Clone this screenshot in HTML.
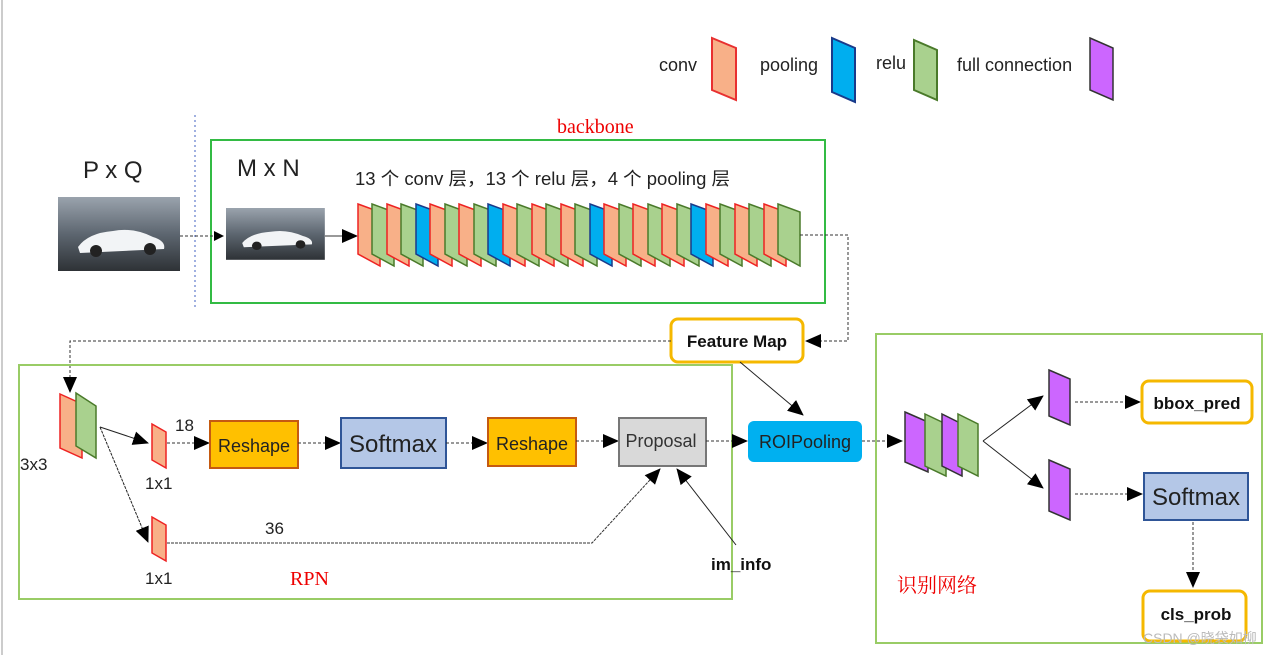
<!DOCTYPE html>
<html><head><meta charset="utf-8"><style>
body{margin:0;background:#fff;}
svg{display:block;font-family:"Liberation Sans","Noto Sans CJK SC",sans-serif;}
</style></head><body>
<svg width="1266" height="655" viewBox="0 0 1266 655" xmlns="http://www.w3.org/2000/svg">
<defs>
<marker id="a" markerWidth="10" markerHeight="10" refX="9" refY="5" orient="auto" markerUnits="userSpaceOnUse"><path d="M0,0 L10,5 L0,10 z" fill="#000"/></marker>
<marker id="b" markerWidth="16" markerHeight="14" refX="15" refY="7" orient="auto" markerUnits="userSpaceOnUse"><path d="M0,0 L16,7 L0,14 z" fill="#000"/></marker>
<linearGradient id="sky" x1="0" y1="0" x2="0" y2="1"><stop offset="0" stop-color="#9aa3ad"/><stop offset="0.5" stop-color="#5d6670"/><stop offset="1" stop-color="#2e3236"/></linearGradient>
<g id="car"><rect width="122" height="74" fill="url(#sky)"/><path d="M20,50 Q30,36 55,34 Q75,30 95,40 Q108,44 106,52 L22,56 z" fill="#f2f4f6"/><circle cx="38" cy="54" r="6" fill="#222"/><circle cx="92" cy="52" r="6" fill="#222"/></g>
<polygon id="par" points="0,0 22,8 22,62 0,50"/>
</defs>
<line x1="2" y1="0" x2="2" y2="655" stroke="#ccc" stroke-width="2"/>
<text x="659" y="71" font-size="18" fill="#222">conv</text>
<polygon points="712,38 736,48 736,100 712,90" fill="#f8b088" stroke="#e83030" stroke-width="2"/>
<text x="760" y="71" font-size="18" fill="#222">pooling</text>
<polygon points="832,38 855,48 855,102 832,92" fill="#00aeef" stroke="#1a3a8a" stroke-width="2"/>
<text x="876" y="69" font-size="18" fill="#222">relu</text>
<polygon points="914,40 937,50 937,100 914,90" fill="#a9d18e" stroke="#4a7a2a" stroke-width="2"/>
<text x="957" y="71" font-size="18" fill="#222">full connection</text>
<polygon points="1090,38 1113,48 1113,100 1090,90" fill="#cc66ff" stroke="#333" stroke-width="1.5"/>
<text x="557" y="133" font-size="20" fill="#e00" font-family="Liberation Serif,serif">backbone</text>
<rect x="211" y="140" width="614" height="163" fill="none" stroke="#33bb44" stroke-width="2"/>
<line x1="195" y1="115" x2="195" y2="310" stroke="#4060c0" stroke-dasharray="2,3"/>
<text x="83" y="178" font-size="24" fill="#222">P x Q</text>
<text x="237" y="176" font-size="24" fill="#222">M x N</text>
<use href="#car" x="58" y="197"/>
<use href="#car" transform="translate(226,208) scale(0.81,0.7)"/>
<line x1="180" y1="236" x2="223" y2="236" stroke="#333" stroke-dasharray="3,2" marker-end="url(#a)"/>
<text x="355" y="185" font-size="18" fill="#222" textLength="375" lengthAdjust="spacingAndGlyphs">13 个 conv 层，13 个 relu 层，4 个 pooling 层</text>
<line x1="325" y1="236" x2="357" y2="236" stroke="#333" marker-end="url(#b)"/>
<g stroke-width="1.5">
<use href="#par" x="358" y="204" fill="#f8b088" stroke="#ee2222"/>
<use href="#par" x="372" y="204" fill="#a9d18e" stroke="#4a7a2a"/>
<use href="#par" x="387" y="204" fill="#f8b088" stroke="#ee2222"/>
<use href="#par" x="401" y="204" fill="#a9d18e" stroke="#4a7a2a"/>
<use href="#par" x="416" y="204" fill="#00aeef" stroke="#1a3a8a"/>
<use href="#par" x="430" y="204" fill="#f8b088" stroke="#ee2222"/>
<use href="#par" x="445" y="204" fill="#a9d18e" stroke="#4a7a2a"/>
<use href="#par" x="459" y="204" fill="#f8b088" stroke="#ee2222"/>
<use href="#par" x="474" y="204" fill="#a9d18e" stroke="#4a7a2a"/>
<use href="#par" x="488" y="204" fill="#00aeef" stroke="#1a3a8a"/>
<use href="#par" x="503" y="204" fill="#f8b088" stroke="#ee2222"/>
<use href="#par" x="517" y="204" fill="#a9d18e" stroke="#4a7a2a"/>
<use href="#par" x="532" y="204" fill="#f8b088" stroke="#ee2222"/>
<use href="#par" x="546" y="204" fill="#a9d18e" stroke="#4a7a2a"/>
<use href="#par" x="561" y="204" fill="#f8b088" stroke="#ee2222"/>
<use href="#par" x="575" y="204" fill="#a9d18e" stroke="#4a7a2a"/>
<use href="#par" x="590" y="204" fill="#00aeef" stroke="#1a3a8a"/>
<use href="#par" x="604" y="204" fill="#f8b088" stroke="#ee2222"/>
<use href="#par" x="619" y="204" fill="#a9d18e" stroke="#4a7a2a"/>
<use href="#par" x="633" y="204" fill="#f8b088" stroke="#ee2222"/>
<use href="#par" x="648" y="204" fill="#a9d18e" stroke="#4a7a2a"/>
<use href="#par" x="662" y="204" fill="#f8b088" stroke="#ee2222"/>
<use href="#par" x="677" y="204" fill="#a9d18e" stroke="#4a7a2a"/>
<use href="#par" x="691" y="204" fill="#00aeef" stroke="#1a3a8a"/>
<use href="#par" x="706" y="204" fill="#f8b088" stroke="#ee2222"/>
<use href="#par" x="720" y="204" fill="#a9d18e" stroke="#4a7a2a"/>
<use href="#par" x="735" y="204" fill="#f8b088" stroke="#ee2222"/>
<use href="#par" x="749" y="204" fill="#a9d18e" stroke="#4a7a2a"/>
<use href="#par" x="764" y="204" fill="#f8b088" stroke="#ee2222"/>
<use href="#par" x="778" y="204" fill="#a9d18e" stroke="#4a7a2a"/>
</g>
<polyline points="800,235 848,235 848,341 806,341" fill="none" stroke="#333" stroke-dasharray="3,2" marker-end="url(#b)"/>
<rect x="671" y="319" width="132" height="43" rx="7" fill="#fff" stroke="#f5b800" stroke-width="3"/>
<text x="737" y="347" font-size="17" font-weight="bold" text-anchor="middle" fill="#111">Feature Map</text>
<polyline points="671,341 70,341 70,392" fill="none" stroke="#333" stroke-dasharray="3,2" marker-end="url(#b)"/>
<rect x="19" y="365" width="713" height="234" fill="none" stroke="#99cc66" stroke-width="2"/>
<polygon points="60,394 82,404 82,458 60,448" fill="#f8b088" stroke="#ee2222" stroke-width="1.5"/>
<polygon points="76,393 96,406 96,458 76,446" fill="#a9d18e" stroke="#4a7a2a" stroke-width="1.5"/>
<text x="20" y="470" font-size="17" fill="#222">3x3</text>
<line x1="100" y1="427" x2="148" y2="443" stroke="#222" marker-end="url(#b)"/>
<line x1="100" y1="427" x2="148" y2="542" stroke="#222" stroke-dasharray="3,1" marker-end="url(#b)"/>
<polygon points="152,424 166,432 166,468 152,460" fill="#f8b088" stroke="#ee2222" stroke-width="1.5"/>
<polygon points="152,517 166,525 166,561 152,553" fill="#f8b088" stroke="#ee2222" stroke-width="1.5"/>
<text x="175" y="431" font-size="17" fill="#222">18</text>
<text x="145" y="489" font-size="17" fill="#222">1x1</text>
<text x="145" y="584" font-size="17" fill="#222">1x1</text>
<text x="265" y="534" font-size="17" fill="#222">36</text>
<line x1="167" y1="443" x2="209" y2="443" stroke="#333" stroke-dasharray="3,2" marker-end="url(#b)"/>
<rect x="210" y="421" width="88" height="47" fill="#ffc000" stroke="#c55a11" stroke-width="2"/>
<text x="254" y="452" font-size="18" text-anchor="middle" fill="#222">Reshape</text>
<line x1="298" y1="443" x2="340" y2="443" stroke="#333" stroke-dasharray="3,2" marker-end="url(#b)"/>
<rect x="341" y="418" width="105" height="50" fill="#b4c7e7" stroke="#2f5597" stroke-width="2"/>
<text x="393" y="452" font-size="24" text-anchor="middle" fill="#222">Softmax</text>
<line x1="446" y1="443" x2="487" y2="443" stroke="#333" stroke-dasharray="3,2" marker-end="url(#b)"/>
<rect x="488" y="418" width="88" height="48" fill="#ffc000" stroke="#c55a11" stroke-width="2"/>
<text x="532" y="450" font-size="18" text-anchor="middle" fill="#222">Reshape</text>
<line x1="576" y1="441" x2="618" y2="441" stroke="#333" stroke-dasharray="3,2" marker-end="url(#b)"/>
<rect x="619" y="418" width="87" height="48" fill="#d9d9d9" stroke="#777" stroke-width="2"/>
<text x="661" y="447" font-size="18" text-anchor="middle" fill="#333">Proposal</text>
<polyline points="167,543 592,543 660,469" fill="none" stroke="#333" stroke-dasharray="3,1" marker-end="url(#b)"/>
<line x1="736" y1="545" x2="677" y2="469" stroke="#222" marker-end="url(#b)"/>
<text x="711" y="570" font-size="17" font-weight="bold" fill="#111">im_info</text>
<text x="290" y="585" font-size="20" fill="#e00" font-family="Liberation Serif,serif">RPN</text>
<line x1="706" y1="441" x2="747" y2="441" stroke="#333" stroke-dasharray="3,2" marker-end="url(#b)"/>
<rect x="748" y="421" width="114" height="41" rx="6" fill="#00b0f0"/>
<text x="805" y="448" font-size="18" text-anchor="middle" fill="#222">ROIPooling</text>
<line x1="740" y1="362" x2="803" y2="415" stroke="#222" marker-end="url(#b)"/>
<line x1="862" y1="441" x2="902" y2="441" stroke="#333" stroke-dasharray="3,2" marker-end="url(#b)"/>
<rect x="876" y="334" width="386" height="309" fill="none" stroke="#99cc66" stroke-width="2"/>
<polygon points="905,412 928,422 928,472 905,462" fill="#cc66ff" stroke="#333" stroke-width="1.5"/>
<polygon points="925,414 946,424 946,476 925,466" fill="#a9d18e" stroke="#4a7a2a" stroke-width="1.5"/>
<polygon points="942,414 962,424 962,476 942,466" fill="#cc66ff" stroke="#333" stroke-width="1.5"/>
<polygon points="958,414 978,424 978,476 958,466" fill="#a9d18e" stroke="#4a7a2a" stroke-width="1.5"/>
<line x1="983" y1="441" x2="1043" y2="396" stroke="#222" marker-end="url(#b)"/>
<line x1="983" y1="441" x2="1043" y2="488" stroke="#222" marker-end="url(#b)"/>
<polygon points="1049,370 1070,379 1070,425 1049,416" fill="#cc66ff" stroke="#333" stroke-width="1.5"/>
<polygon points="1049,460 1070,469 1070,520 1049,511" fill="#cc66ff" stroke="#333" stroke-width="1.5"/>
<line x1="1075" y1="402" x2="1140" y2="402" stroke="#333" stroke-dasharray="3,2" marker-end="url(#b)"/>
<rect x="1142" y="381" width="110" height="42" rx="7" fill="#fff" stroke="#f5b800" stroke-width="3"/>
<text x="1197" y="409" font-size="17" font-weight="bold" text-anchor="middle" fill="#111">bbox_pred</text>
<line x1="1075" y1="494" x2="1142" y2="494" stroke="#333" stroke-dasharray="3,2" marker-end="url(#b)"/>
<rect x="1144" y="473" width="104" height="47" fill="#b4c7e7" stroke="#2f5597" stroke-width="2"/>
<text x="1196" y="505" font-size="24" text-anchor="middle" fill="#222">Softmax</text>
<line x1="1193" y1="522" x2="1193" y2="587" stroke="#333" stroke-dasharray="3,2" marker-end="url(#b)"/>
<rect x="1143" y="591" width="103" height="50" rx="7" fill="#fff" stroke="#f5b800" stroke-width="3"/>
<text x="1196" y="620" font-size="17" font-weight="bold" text-anchor="middle" fill="#111">cls_prob</text>
<text x="897" y="592" font-size="20" fill="#e00" font-family="Liberation Serif,'Noto Serif CJK SC',serif">识别网络</text>
<text x="1143" y="643" font-size="14" fill="#bbb">CSDN @晓袋如柳</text>
</svg>
</body></html>
